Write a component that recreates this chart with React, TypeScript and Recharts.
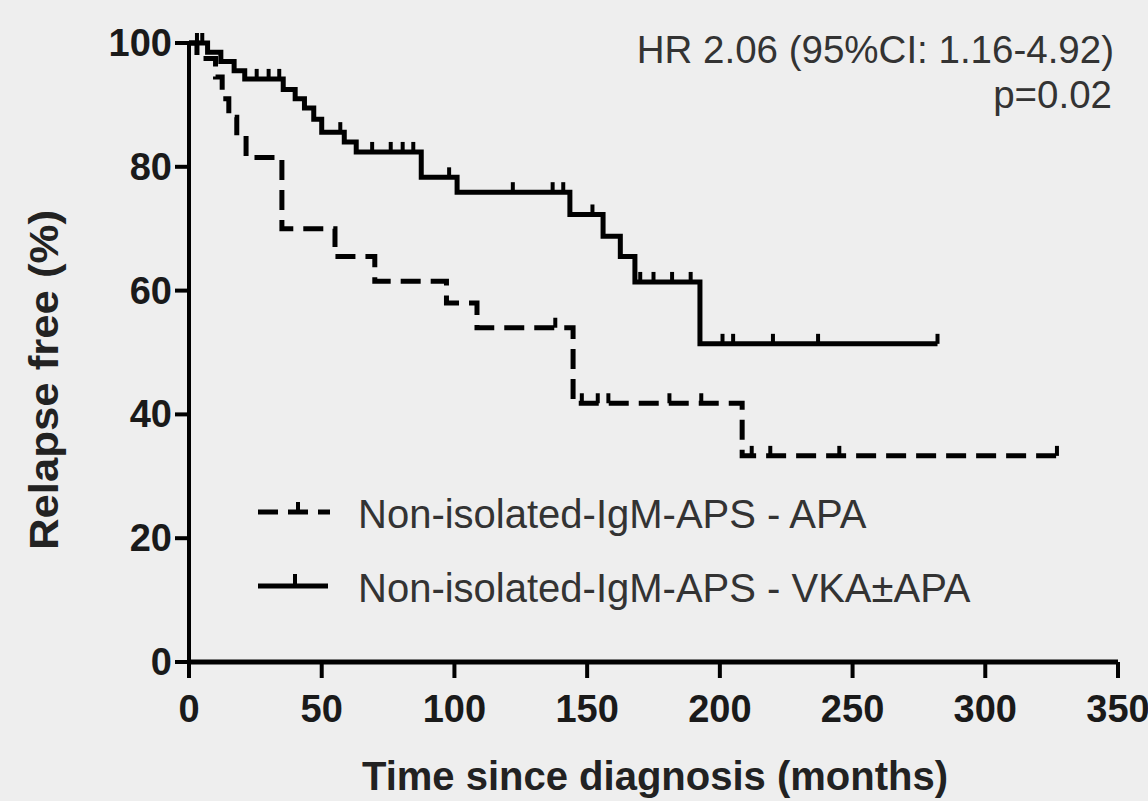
import React from 'react';
import { ComposedChart, Line, Scatter, XAxis, YAxis } from 'recharts';

// APA (dashed) Kaplan-Meier steps
const apaTimes = [0, 3, 10, 12.5, 15, 18, 21.5, 35, 55, 70, 97, 108.5, 144.7, 208.4, 327];
const apaSurv = [100, 97.5, 94.5, 91, 88, 85, 81.5, 70, 65.5, 61.5, 58, 54, 41.8, 33.3, 33.3];
// VKA±APA (solid) Kaplan-Meier steps
const vkaTimes = [0, 7, 12, 17, 21, 35.5, 40, 43.5, 47, 50, 58.5, 63, 87.5, 101, 143.5, 156, 162.5, 168, 192.5, 282];
const vkaSurv = [100, 98.5, 97, 95.5, 94.2, 92.5, 91, 89.5, 87.7, 85.6, 84, 82.4, 78.3, 75.9, 72.3, 68.8, 65.5, 61.4, 51.4, 51.4];
// censor marks
const apaCensorTimes = [138, 148, 154, 158, 181, 193, 212, 219, 245, 327];
const apaCensorSurv = [54, 41.8, 41.8, 41.8, 41.8, 41.8, 33.3, 33.3, 33.3, 33.3];
const vkaCensorTimes = [3, 5, 25.5, 30, 34, 57, 69, 76, 80.5, 84.5, 98, 122, 137, 141, 152, 170, 175, 182, 189, 201, 205, 220, 237, 282];
const vkaCensorSurv = [100, 100, 94.2, 94.2, 94.2, 85.6, 82.4, 82.4, 82.4, 82.4, 78.3, 75.9, 75.9, 75.9, 72.3, 61.4, 61.4, 61.4, 61.4, 51.4, 51.4, 51.4, 51.4, 51.4];

const xTicks = [0, 50, 100, 150, 200, 250, 300, 350];
const yTicks = [0, 20, 40, 60, 80, 100];

const seriesNames = ['Non-isolated-IgM-APS - APA', 'Non-isolated-IgM-APS - VKA±APA'];
const hrText = 'HR 2.06 (95%CI: 1.16-4.92)';
const pText = 'p=0.02';
const xLabel = 'Time since diagnosis (months)';
const yLabel = 'Relapse free (%)';

const zip = (ts: number[], ss: number[]) => ts.map((t, i) => ({ t, s: ss[i] }));
const apaData = zip(apaTimes, apaSurv);
const vkaData = zip(vkaTimes, vkaSurv);
const apaCensor = zip(apaCensorTimes, apaCensorSurv);
const vkaCensor = zip(vkaCensorTimes, vkaCensorSurv);

const FONT = '"Liberation Sans", Arial, Helvetica, sans-serif';

const CensorMark = (props: any) => {
  const { cx, cy } = props;
  if (cx == null || cy == null) return null;
  return <line x1={cx} y1={cy} x2={cx} y2={cy - 10} stroke="#000" strokeWidth={4} />;
};

const YTick = (props: any) => {
  const { x, y, payload } = props;
  return (
    <text x={x} y={y} dy={13} textAnchor="end" fontSize={38} fontWeight="bold" fill="#1a1a1a" fontFamily={FONT}>
      {payload.value}
    </text>
  );
};

const XTick = (props: any) => {
  const { x, y, payload } = props;
  return (
    <text x={x} y={y} dy={40} textAnchor="middle" fontSize={38} fontWeight="bold" fill="#1a1a1a" fontFamily={FONT}>
      {payload.value}
    </text>
  );
};

export default function App() {
  return (
    <div style={{ position: 'absolute', left: 0, top: 0, width: 1148, height: 801, background: '#eeeeee', overflow: 'hidden' }}>
      <ComposedChart width={1148} height={801} margin={{ top: 43, right: 30, bottom: 0, left: 0 }}>
        <XAxis
          type="number"
          dataKey="t"
          domain={[0, 350]}
          ticks={xTicks}
          interval={0}
          allowDataOverflow
          height={139}
          tickSize={16}
          tickMargin={4}
          axisLine={{ stroke: '#000', strokeWidth: 5 }}
          tickLine={{ stroke: '#000', strokeWidth: 4 }}
          tick={<XTick />}
        />
        <YAxis
          type="number"
          domain={[0, 100]}
          ticks={yTicks}
          interval={0}
          width={189}
          tickSize={14}
          tickMargin={3}
          axisLine={{ stroke: '#000', strokeWidth: 4 }}
          tickLine={{ stroke: '#000', strokeWidth: 4 }}
          tick={<YTick />}
        />
        <Line
          data={apaData}
          dataKey="s"
          type="stepAfter"
          stroke="#000"
          strokeWidth={5}
          strokeDasharray="20 10"
          dot={false}
          activeDot={false}
          isAnimationActive={false}
        />
        <Line
          data={vkaData}
          dataKey="s"
          type="stepAfter"
          stroke="#000"
          strokeWidth={5}
          dot={false}
          activeDot={false}
          isAnimationActive={false}
        />
        <Scatter data={apaCensor} dataKey="s" shape={<CensorMark />} isAnimationActive={false} />
        <Scatter data={vkaCensor} dataKey="s" shape={<CensorMark />} isAnimationActive={false} />
      </ComposedChart>
      <svg width={1148} height={801} style={{ position: 'absolute', left: 0, top: 0, pointerEvents: 'none' }}>
        <g fontFamily={FONT}>
          <text x={1114} y={63} textAnchor="end" fontSize={38.5} fill="#333">{hrText}</text>
          <text x={1112} y={108} textAnchor="end" fontSize={38.5} fill="#333">{pText}</text>
          <text x={655} y={790} textAnchor="middle" fontSize={40} fontWeight="bold" fill="#222">{xLabel}</text>
          <text transform="translate(58,380) rotate(-90)" textAnchor="middle" fontSize={40} fontWeight="bold" fill="#222" textLength={340} lengthAdjust="spacingAndGlyphs">{yLabel}</text>
          {/* legend */}
          <line x1={258} y1={512} x2={330} y2={512} stroke="#000" strokeWidth={5} strokeDasharray="20 10" />
          <line x1={298} y1={512} x2={298} y2={502} stroke="#000" strokeWidth={4} />
          <text x={358} y={528} fontSize={40} fill="#333">{seriesNames[0]}</text>
          <line x1={258} y1={586} x2={328} y2={586} stroke="#000" strokeWidth={5} />
          <line x1={295} y1={586} x2={295} y2={574} stroke="#000" strokeWidth={4} />
          <text x={358} y={602} fontSize={40} fill="#333">{seriesNames[1]}</text>
        </g>
      </svg>
    </div>
  );
}
